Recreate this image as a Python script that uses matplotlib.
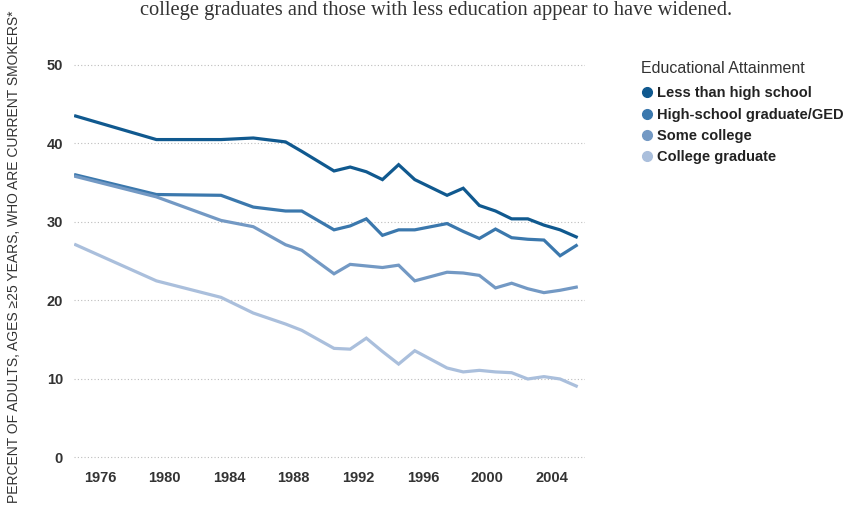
import numpy as np
import matplotlib.pyplot as plt
from matplotlib.lines import Line2D

# Survey years (NHIS)
years = [1974, 1979, 1983, 1985, 1987, 1988, 1990, 1991, 1992, 1993, 1994,
         1995, 1997, 1998, 1999, 2000, 2001, 2002, 2003, 2004, 2005]

# Percent current smokers by education
less_than_hs = [43.5, 40.5, 40.5, 40.7, 40.2, 39.0, 36.5, 37.0, 36.4, 35.4, 37.3,
                35.4, 33.4, 34.3, 32.1, 31.4, 30.4, 30.4, 29.6, 29.0, 28.1]
hs_grad = [36.0, 33.5, 33.4, 31.9, 31.4, 31.4, 29.0, 29.5, 30.4, 28.3, 29.0,
           29.0, 29.8, 28.8, 27.9, 29.1, 28.0, 27.8, 27.7, 25.7, 27.0]
some_college = [35.8, 33.2, 30.2, 29.4, 27.1, 26.4, 23.4, 24.6, 24.4, 24.2, 24.5,
                22.5, 23.6, 23.5, 23.2, 21.6, 22.2, 21.5, 21.0, 21.3, 21.7]
college_grad = [27.1, 22.5, 20.4, 18.4, 17.0, 16.2, 13.9, 13.8, 15.2, 13.5, 11.9,
                13.6, 11.4, 10.9, 11.1, 10.9, 10.8, 10.0, 10.3, 10.0, 9.1]

labels = ['Less than high school', 'High-school graduate/GED',
          'Some college', 'College graduate']
colors = ['#10598f', '#3b78ad', '#7399c4', '#aabfdc']
x_ticks = [1976, 1980, 1984, 1988, 1992, 1996, 2000, 2004]
y_ticks = [0, 10, 20, 30, 40, 50]

plt.rcParams['font.family'] = ['Liberation Sans', 'DejaVu Sans']

fig = plt.figure(figsize=(8.48, 5.08), dpi=100)
ax = fig.add_axes([0.0873, 0.084, 0.6027, 0.8035])

# Punkte in der Jahresmitte zeichnen
x = np.array(years) + 0.5
for series, c in zip([less_than_hs, hs_grad, some_college, college_grad], colors):
    ax.plot(x, series, color=c, lw=2.3, solid_joinstyle='miter', zorder=3)

ax.set_xlim(1974.4, 2006.05)
ax.set_ylim(-1, 51)
ax.set_xticks(x_ticks)
ax.set_yticks(y_ticks)
ax.tick_params(length=0, labelsize=10.5, labelcolor='#333333')
ax.tick_params(axis='y', pad=8)
ax.tick_params(axis='x', pad=4)
for lab in ax.get_xticklabels() + ax.get_yticklabels():
    lab.set_fontweight('bold')
ax.grid(axis='y', color='#bdbdbd', linestyle=(0, (1, 2)), linewidth=0.8)
ax.grid(axis='x', visible=False)
for s in ax.spines.values():
    s.set_visible(False)

fig.text(14 / 848, 1 - 257 / 508, 'PERCENT OF ADULTS, AGES \u226525 YEARS, WHO ARE CURRENT SMOKERS*',
         rotation=90, ha='center', va='center', fontsize=10, color='#333333')

fig.text(436 / 848, 1 - 15 / 508,
         'college graduates and those with less education appear to have widened.',
         ha='center', va='baseline', fontsize=14.8, color='#333333',
         family=['Liberation Serif', 'DejaVu Serif'])

# Legende
handles = [Line2D([], [], marker='o', linestyle='', color=c, markersize=7) for c in colors]
leg = ax.legend(handles, labels, loc='upper left', bbox_to_anchor=(641 / 848, 1 - 61 / 508),
                bbox_transform=fig.transFigure, frameon=False,
                title='Educational Attainment', alignment='left',
                prop={'weight': 'bold', 'size': 10.5}, handletextpad=0.3,
                handlelength=0.8, labelspacing=0.5, borderpad=0, borderaxespad=0)
leg.get_title().set_fontsize(11.5)
leg.get_title().set_color('#333333')
leg._legend_box.sep = 7.5
for t in leg.get_texts():
    t.set_color('#222222')

fig.savefig('out.png', dpi=100)
